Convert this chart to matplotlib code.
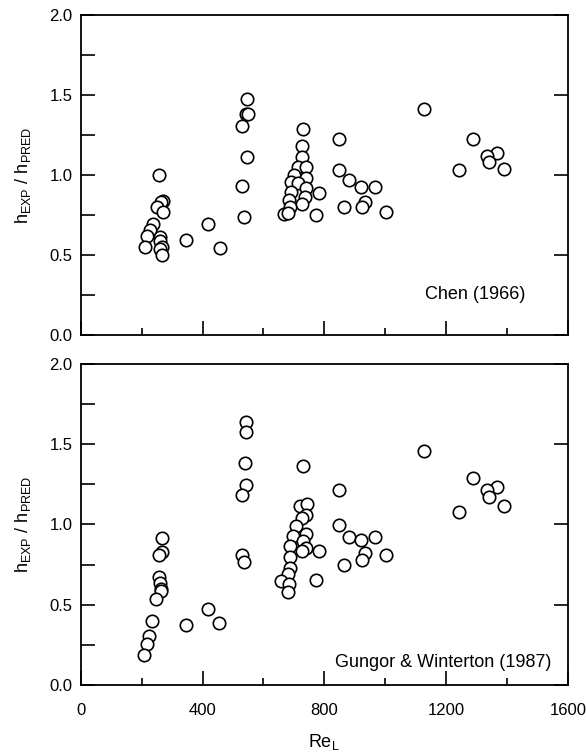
import matplotlib
matplotlib.use("Agg")
import matplotlib.pyplot as plt
from matplotlib.ticker import MultipleLocator, FormatStrFormatter

plt.rcParams['font.family'] = ['Liberation Sans', 'DejaVu Sans']
plt.rcParams['mathtext.fontset'] = 'custom'
plt.rcParams['mathtext.rm'] = 'Liberation Sans'
plt.rcParams['mathtext.it'] = 'Liberation Sans:italic'
plt.rcParams['mathtext.default'] = 'regular'

# Chen (1966) - top panel
chen_re = [256, 270, 263, 249, 270, 238, 227, 218, 210, 260, 260, 265, 260, 265,
           347, 418, 457,
           546, 544, 550, 531, 546, 528, 535,
           730, 728, 728, 714, 741, 701, 739, 689, 714, 739, 689, 783, 736, 684,
           725, 687, 667, 681, 772,
           849, 849, 880, 922, 967, 864, 933, 924, 1004,
           1127, 1287, 1368, 1335, 1340, 1242, 1391]
chen_h = [1.00, 0.84, 0.83, 0.80, 0.765, 0.69, 0.656, 0.62, 0.55, 0.614, 0.587, 0.552, 0.535, 0.50,
          0.59, 0.694, 0.54,
          1.473, 1.38, 1.38, 1.306, 1.11, 0.93, 0.735,
          1.29, 1.18, 1.11, 1.05, 1.05, 1.00, 0.98, 0.956, 0.95, 0.917, 0.896, 0.89, 0.86, 0.844,
          0.82, 0.80, 0.756, 0.76, 0.75,
          1.223, 1.03, 0.97, 0.927, 0.927, 0.80, 0.833, 0.80, 0.77,
          1.41, 1.227, 1.135, 1.12, 1.08, 1.03, 1.04]

# Gungor & Winterton (1987) - bottom panel
gw_re = [267, 267, 256, 257, 260, 262, 263, 246, 234, 223, 216, 207,
         345, 418, 454,
         542, 544, 539, 544, 531, 528, 535,
         730, 719, 743, 739, 725, 708, 739, 697, 730, 739, 727, 687, 782, 687,
         687, 681, 659, 684, 681, 772,
         849, 849, 880, 922, 967, 864, 933, 924, 1004,
         1127, 1287, 1368, 1335, 1340, 1242, 1391]
gw_h = [0.9125, 0.829, 0.8125, 0.67, 0.635, 0.60, 0.583, 0.5375, 0.396, 0.308, 0.254, 0.1875,
        0.375, 0.473, 0.383,
        1.64, 1.573, 1.383, 1.246, 1.18, 0.8125, 0.767,
        1.365, 1.115, 1.13, 1.06, 1.04, 0.99, 0.94, 0.93, 0.896, 0.854, 0.8375, 0.864, 0.8375, 0.796,
        0.729, 0.69, 0.646, 0.629, 0.579, 0.656,
        1.2125, 0.996, 0.923, 0.906, 0.923, 0.746, 0.819, 0.78, 0.81,
        1.454, 1.2875, 1.233, 1.2125, 1.17, 1.08, 1.115]

panels = [(chen_re, chen_h, 'Chen (1966)', 1460, 0.25),
          (gw_re, gw_h, 'Gungor & Winterton (1987)', 1547, 0.14)]

fig = plt.figure(figsize=(5.86, 7.54), dpi=100)
ax_top = fig.add_axes([0.138, 0.556, 0.831, 0.424])
ax_bot = fig.add_axes([0.138, 0.0915, 0.831, 0.426])

for ax, (re, h, label, tx, ty) in zip([ax_top, ax_bot], panels):
    ax.scatter(re, h, s=80, facecolors='white', edgecolors='black', linewidths=1.2, zorder=3)
    ax.set_xlim(0, 1600)
    ax.set_ylim(0, 2.0)
    ax.xaxis.set_major_locator(MultipleLocator(400))
    ax.xaxis.set_minor_locator(MultipleLocator(200))
    ax.yaxis.set_major_locator(MultipleLocator(0.5))
    ax.yaxis.set_minor_locator(MultipleLocator(0.25))
    ax.yaxis.set_major_formatter(FormatStrFormatter('%.1f'))
    ax.tick_params(which='major', direction='in', length=10, width=1.2,
                   left=True, right=True, bottom=True, top=False, labelsize=12)
    ax.tick_params(axis='y', which='major', pad=6)
    ax.tick_params(axis='x', which='major', pad=13)
    ax.tick_params(axis='y', which='minor', direction='in', length=10, width=1.2,
                   left=True, right=False)
    ax.tick_params(axis='x', which='minor', direction='in', length=5, width=1.2,
                   bottom=True, top=False)
    for sp in ax.spines.values():
        sp.set_linewidth(1.3)
    ax.set_ylabel(r'h$_{EXP}$ / h$_{PRED}$', fontsize=13)
    ax.yaxis.set_label_coords(-0.099, 0.5)
    ax.text(tx, ty, label, fontsize=13, ha='right', va='center')

ax_top.tick_params(axis='x', labelbottom=False)
ax_bot.set_xlabel(r'Re$_L$', fontsize=13, labelpad=10)

fig.savefig('out.png', dpi=100)
